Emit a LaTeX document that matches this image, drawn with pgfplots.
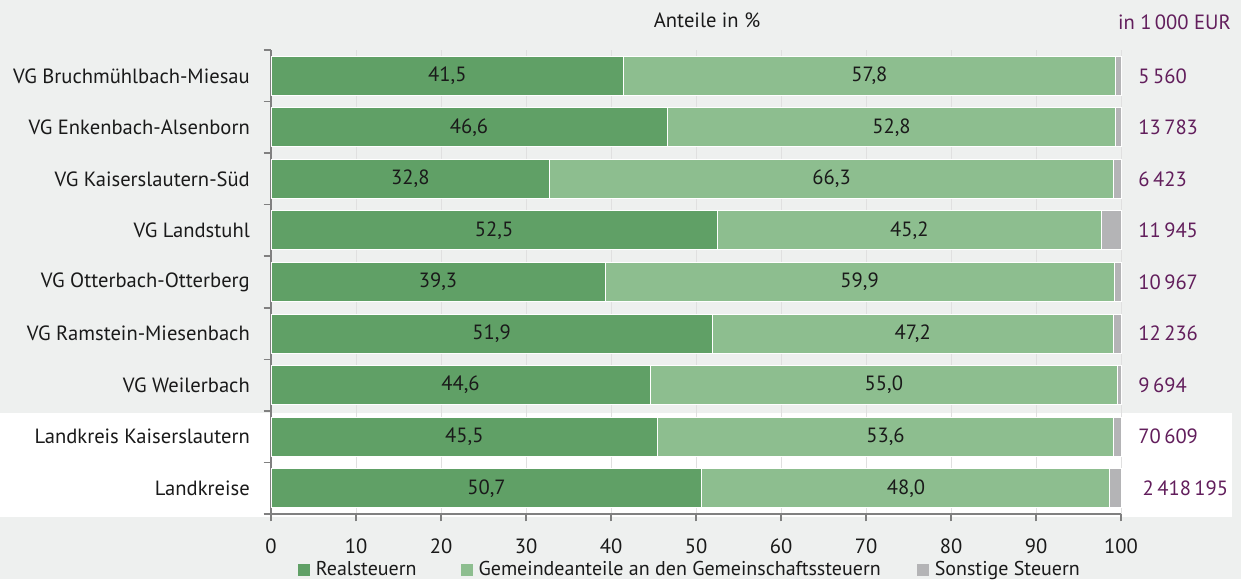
\documentclass[border=0pt]{standalone}
\usepackage{fontspec}
\setmainfont{PT Sans}
\usepackage{pgfplots}
\usepackage{pgfplotstable}
\pgfplotsset{compat=1.18}
\definecolor{bgc}{RGB}{238,240,239}
\definecolor{dg}{RGB}{96,160,102}
\definecolor{lg}{RGB}{141,190,143}
\definecolor{sg}{RGB}{180,180,182}
\definecolor{pu}{RGB}{98,30,92}
\definecolor{axc}{RGB}{128,128,128}
\definecolor{txt}{RGB}{26,26,26}
\pgfplotstableread{
y r g s
8 41.5 57.8 0.7
7 46.6 52.8 0.6
6 32.8 66.3 0.9
5 52.5 45.2 2.3
4 39.3 59.9 0.8
3 51.9 47.2 0.9
2 44.6 55.0 0.4
1 45.5 53.6 0.9
0 50.7 48.0 1.3
}\tabshares
\pgfplotstableread{
y x lab
8 20.75 41,5
7 23.30 46,6
6 16.40 32,8
5 26.25 52,5
4 19.65 39,3
3 25.95 51,9
2 22.30 44,6
1 22.75 45,5
0 25.35 50,7
8 70.40 57,8
7 73.00 52,8
6 65.95 66,3
5 75.10 45,2
4 69.25 59,9
3 75.50 47,2
2 72.10 55,0
1 72.30 53,6
0 74.70 48,0
}\tablabels
\begin{document}
\fontsize{10.3pt}{12pt}\selectfont
\color{txt}
\begin{tikzpicture}
\fill[bgc] (0,0) rectangle (620.5pt,289.5pt);
\fill[white] (0,31pt) rectangle (616pt,83pt);
\begin{axis}[
  at={(135.5pt,32.5pt)}, anchor=south west,
  scale only axis, width=425pt, height=232pt,
  xbar stacked, bar width=19.5pt,
  xmin=0, xmax=100, ymin=-0.5, ymax=8.5,
  axis x line*=bottom, axis y line*=left,
  axis line style={axc, line width=0.8pt},
  xtick={0,10,20,30,40,50,60,70,80,90,100},
  xticklabels={0,10,20,30,40,50,60,70,80,90,100},
  ytick={-0.5,0.5,1.5,2.5,3.5,4.5,5.5,6.5,7.5,8.5},
  yticklabel={\mbox{}},
  tick align=outside,
  major tick length=3.7pt,
  tick style={axc, line width=0.8pt},
  xmajorgrids, major grid style={black!12, line width=0.5pt},
  xticklabel style={yshift=-5pt, text=txt},
  clip=false,
  legend columns=3,
  legend style={at={(rel axis cs:0.494,0)}, anchor=north, yshift=-21.5pt, draw=none, fill=none, inner sep=0pt,
    font=\fontsize{10pt}{12pt}\selectfont,
    /tikz/every odd column/.append style={column sep=1pt},
    /tikz/column 2/.append style={column sep=20pt},
    /tikz/column 4/.append style={column sep=16pt}},
  legend image code/.code={\draw[#1,draw=none] (0pt,-3pt) rectangle (6pt,3pt);},
]
\addplot[fill=dg, draw=white, line width=0.5pt] table[x=r, y=y] {\tabshares};
\addlegendentry{Realsteuern}
\addplot[fill=lg, draw=white, line width=0.5pt] table[x=g, y=y] {\tabshares};
\addlegendentry{Gemeindeanteile an den Gemeinschaftssteuern}
\addplot[fill=sg, draw=white, line width=0.5pt] table[x=s, y=y] {\tabshares};
\addlegendentry{Sonstige Steuern}
\end{axis}
\begin{axis}[
  at={(135.5pt,32.5pt)}, anchor=south west,
  scale only axis, width=425pt, height=232pt,
  xmin=0, xmax=100, ymin=-0.5, ymax=8.5,
  hide axis, clip=false,
]
\addplot[only marks, mark=none, nodes near coords, point meta=explicit symbolic,
  nodes near coords style={anchor=center, text=txt}]
  table[x=x, y=y, meta=lab] {\tablabels};
\node[anchor=east, inner sep=0pt] at (axis cs:-2.45,8) {VG Bruchmühlbach-Miesau};
\node[anchor=east, inner sep=0pt] at (axis cs:-2.45,7) {VG Enkenbach-Alsenborn};
\node[anchor=east, inner sep=0pt] at (axis cs:-2.45,6) {VG Kaiserslautern-Süd};
\node[anchor=east, inner sep=0pt] at (axis cs:-2.45,5) {VG Landstuhl};
\node[anchor=east, inner sep=0pt] at (axis cs:-2.45,4) {VG Otterbach-Otterberg};
\node[anchor=east, inner sep=0pt] at (axis cs:-2.45,3) {VG Ramstein-Miesenbach};
\node[anchor=east, inner sep=0pt] at (axis cs:-2.45,2) {VG Weilerbach};
\node[anchor=east, inner sep=0pt] at (axis cs:-2.45,1) {Landkreis Kaiserslautern};
\node[anchor=east, inner sep=0pt] at (axis cs:-2.45,0) {Landkreise};
\node[anchor=west, text=pu, inner sep=0pt] at (axis cs:102,8) {5\,560};
\node[anchor=west, text=pu, inner sep=0pt] at (axis cs:102,7) {13\,783};
\node[anchor=west, text=pu, inner sep=0pt] at (axis cs:102,6) {6\,423};
\node[anchor=west, text=pu, inner sep=0pt] at (axis cs:102,5) {11\,945};
\node[anchor=west, text=pu, inner sep=0pt] at (axis cs:102,4) {10\,967};
\node[anchor=west, text=pu, inner sep=0pt] at (axis cs:102,3) {12\,236};
\node[anchor=west, text=pu, inner sep=0pt] at (axis cs:102,2) {9\,694};
\node[anchor=west, text=pu, inner sep=0pt] at (axis cs:102,1) {70\,609};
\node[anchor=west, text=pu, inner sep=0pt] at (axis cs:102.5,0) {2\,418\,195};
\node[anchor=center] at (axis cs:51.3,8.5) [yshift=15pt] {Anteile in \%};
\node[anchor=west, text=pu, inner sep=0pt] at (axis cs:99.6,8.5) [yshift=14pt] {in 1\,000 EUR};
\end{axis}
\end{tikzpicture}
\end{document}
